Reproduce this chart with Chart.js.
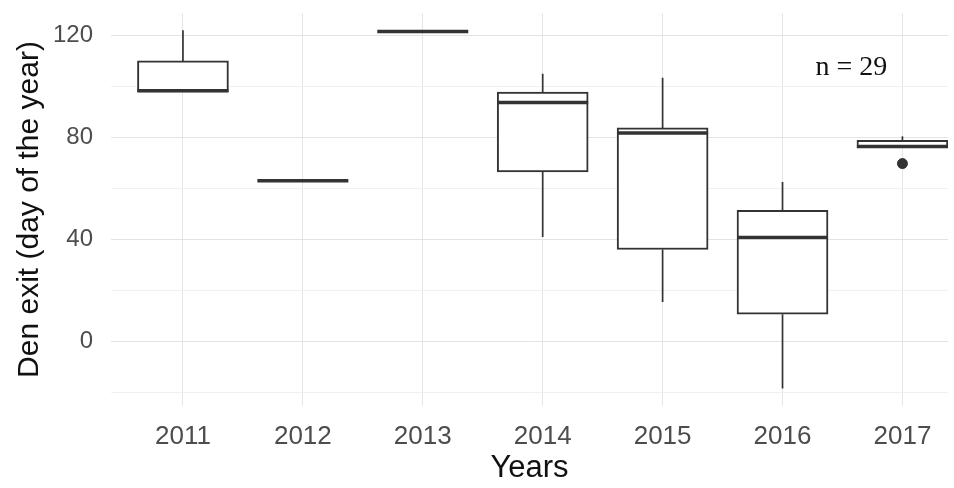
<!DOCTYPE html>
<html>
<head>
<meta charset="utf-8">
<script src="https://cdn.jsdelivr.net/npm/chart.js@4.4.1/dist/chart.umd.min.js"></script>
<style>
  html, body { margin: 0; padding: 0; background: #fff; }
  #wrap { width: 954px; height: 488px; }
</style>
</head>
<body>
<div id="wrap"><canvas id="chart"></canvas></div>
<script>
const years = [2011, 2012, 2013, 2014, 2015, 2016, 2017];
const lowerWhisker = [97.8, 63, 121.5, 40.9, 15.4, -18.5, 76];
const q1 = [97.8, 63, 121.5, 66.4, 36, 10.6, 76];
const medians = [98.3, 63, 121.5, 93.7, 81.7, 40.7, 76.4];
const q3 = [110, 63, 121.5, 97.8, 83.7, 51.4, 78.8];
const upperWhisker = [122, 63, 121.5, 105, 103.4, 62.5, 80.4];
const outlierYears = [2017];
const outlierValues = [69.7];
const yTicks = [-20, 0, 20, 40, 60, 80, 100, 120];
const yLabelled = [0, 40, 80, 120];

const ink = "#333333";

// whiskers under the boxes, medians and the n label on top
const boxPlugin = {
  id: "boxParts",
  beforeDatasetsDraw(chart) {
    const { ctx, scales: { x, y } } = chart;
    ctx.save();
    ctx.strokeStyle = ink;
    ctx.lineWidth = 1.7;
    years.forEach((yr, i) => {
      const px = x.getPixelForValue(yr);
      ctx.beginPath();
      ctx.moveTo(px, y.getPixelForValue(upperWhisker[i]));
      ctx.lineTo(px, y.getPixelForValue(q3[i]));
      ctx.moveTo(px, y.getPixelForValue(q1[i]));
      ctx.lineTo(px, y.getPixelForValue(lowerWhisker[i]));
      ctx.stroke();
    });
    ctx.restore();
  },
  afterDatasetsDraw(chart) {
    const { ctx, scales: { x, y } } = chart;
    const bars = chart.getDatasetMeta(0).data;
    ctx.save();
    ctx.strokeStyle = ink;
    ctx.lineWidth = 3.5;
    years.forEach((yr, i) => {
      const px = x.getPixelForValue(yr);
      const half = bars[i].width / 2;
      const py = y.getPixelForValue(medians[i]);
      ctx.beginPath();
      ctx.moveTo(px - half, py);
      ctx.lineTo(px + half, py);
      ctx.stroke();
    });
    // sample size note
    ctx.fillStyle = "#111";
    ctx.font = "28px 'Liberation Serif', serif";
    ctx.textAlign = "center";
    ctx.textBaseline = "middle";
    ctx.fillText("n = 29", x.getPixelForValue(2016.575), y.getPixelForValue(107.5));
    ctx.restore();
  }
};

const ctx = document.getElementById("chart").getContext("2d");
new Chart(ctx, {
  type: "bar",
  data: {
    datasets: [
      {
        type: "bar",
        data: years.map((yr, i) => ({ x: yr, y: [q1[i], q3[i]] })),
        backgroundColor: "#ffffff",
        borderColor: ink,
        borderWidth: 2,
        borderSkipped: false,
        barThickness: 91,
      },
      {
        type: "scatter",
        data: outlierYears.map((yr, i) => ({ x: yr, y: outlierValues[i] })),
        backgroundColor: ink,
        borderColor: ink,
        pointRadius: 5,
      },
    ],
  },
  options: {
    responsive: true,
    maintainAspectRatio: false,
    animation: false,
    layout: { padding: { top: 13, right: 0, left: 0, bottom: 0 } },
    plugins: { legend: { display: false }, tooltip: { enabled: false } },
    scales: {
      x: {
        type: "linear",
        offset: false,
        min: 2010.4,
        max: 2017.38,
        afterBuildTicks: (s) => { s.ticks = years.map((v) => ({ value: v })); },
        afterFit: (s) => { s.height = 82; s.paddingLeft = 0; s.paddingRight = 0; },
        border: { display: false },
        grid: { color: "#e6e6e6", lineWidth: 1, drawTicks: false, offset: false },
        ticks: {
          color: "#4d4d4d",
          font: { family: "'Liberation Sans', Arial, sans-serif", size: 26 },
          padding: 15,
          callback: (v) => String(v),
        },
        title: {
          display: true,
          text: "Years",
          color: "#111",
          font: { family: "'Liberation Sans', Arial, sans-serif", size: 31 },
          padding: { top: 0, bottom: 1 },
        },
      },
      y: {
        min: -25.4,
        max: 128.8,
        afterBuildTicks: (s) => { s.ticks = yTicks.map((v) => ({ value: v })); },
        afterFit: (s) => { s.width = 111; s.paddingTop = 0; s.paddingBottom = 0; },
        border: { display: false },
        grid: {
          color: (c) => (yLabelled.includes(c.tick.value) ? "#e3e3e3" : "#f0f0f0"),
          lineWidth: 1,
          drawTicks: false,
        },
        ticks: {
          color: "#4d4d4d",
          font: { family: "'Liberation Sans', Arial, sans-serif", size: 24 },
          padding: 18,
          callback: (v) => (yLabelled.includes(v) ? String(v) : ""),
        },
        title: {
          display: true,
          text: "Den exit (day of the year)",
          color: "#111",
          font: { family: "'Liberation Sans', Arial, sans-serif", size: 30 },
          padding: { top: 12, bottom: 0 },
        },
      },
    },
  },
  plugins: [boxPlugin],
});
</script>
</body>
</html>
